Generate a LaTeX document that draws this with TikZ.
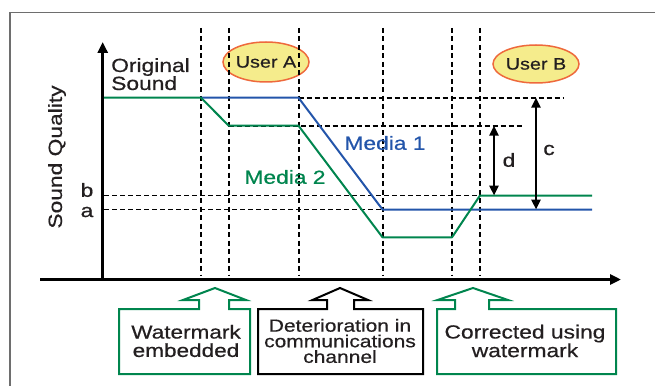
\documentclass[tikz,border=0pt]{standalone}
\usepackage{fontspec}
\setmainfont{Liberation Sans}[FakeStretch=1.2,FakeBold=0.6]
\usetikzlibrary{arrows.meta,shapes.geometric}
\definecolor{gline}{RGB}{0,133,78}
\definecolor{bline}{RGB}{35,85,170}
\definecolor{ufill}{RGB}{245,236,140}
\definecolor{uedge}{RGB}{238,105,60}
\definecolor{txt}{RGB}{35,31,32}
\definecolor{frm}{RGB}{110,110,110}
\begin{document}
\begin{tikzpicture}[x=1pt,y=-1pt,
  lbl/.style={font=\fontsize{19}{19}\selectfont, text=txt, inner sep=0pt},
  boxlbl/.style={font=\fontsize{18.8}{18.4}\selectfont, text=txt, inner sep=0pt, align=center},
  vdash/.style={line width=2pt, dash pattern=on 5pt off 3.5pt},
  hdash/.style={line width=1.8pt, dash pattern=on 5pt off 3pt},
  axisline/.style={line width=3pt, -{Triangle[length=11pt,width=10pt]}},
  dimline/.style={line width=2.5pt, {Triangle[length=10pt,width=9pt]}-{Triangle[length=10pt,width=9pt]}},
  curve/.style={line width=2pt, line join=round},
  user/.style={ellipse, draw=uedge, fill=ufill, line width=1.5pt, inner sep=0pt,
    font=\fontsize{16.5}{16.5}\selectfont, text=txt},
  gbox/.style={draw=gline, line width=2pt, line join=miter},
  kbox/.style={draw=black, line width=2pt, line join=miter}
]
\useasboundingbox (0,0) rectangle (655,385);
% frame
\draw[frm, line width=1.2pt] (10,390) -- (10,12.3) -- (660,12.3);

% user ellipses
\node[user, minimum width=86pt, minimum height=40pt] (ua) at (266,62) {User A};
\node[user, minimum width=86pt, minimum height=38pt] (ub) at (536,64) {User B};

% coordinates
\coordinate (o) at (102.7,279.5);
\coordinate (ytip) at (102.7,42);
\coordinate (xstart) at (40,279.5);
\coordinate (xtip) at (621,279.5);

% vertical dashed lines
\foreach \xx/\nm in {201/v1,228.7/v2,298.5/v3,382.5/v4,452/v5,480/v6}{
  \coordinate (\nm t) at (\xx,28);
  \coordinate (\nm b) at (\xx,276);
  \draw[vdash] (\nm t) -- (\nm b);
}

% horizontal dashed lines
\coordinate (h1a) at (298.5,97.7); \coordinate (h1b) at (564,97.7);
\coordinate (h2a) at (228.7,125.7); \coordinate (h2b) at (523,125.7);
\coordinate (hba) at (104,195.5); \coordinate (hbb) at (480,195.5);
\coordinate (haa) at (104,209.5); \coordinate (hab) at (382.5,209.5);
\draw[hdash] (h1a) -- (h1b);
\draw[hdash] (h2a) -- (h2b);
\draw[hdash] (hba) -- (hbb);
\draw[hdash] (haa) -- (hab);

% curves
\coordinate (g0) at (102.7,97.7);
\coordinate (g1) at (201,97.7);
\coordinate (g2) at (228.7,125.7);
\coordinate (g3) at (298.5,125.7);
\coordinate (g4) at (382.5,237.3);
\coordinate (g5) at (452,237.3);
\coordinate (g6) at (480,195.5);
\coordinate (g7) at (592,195.5);
\coordinate (b1) at (298.5,97.7);
\coordinate (b2) at (382.5,209.5);
\coordinate (b3) at (592,209.5);
\draw[curve, bline] (g1) -- (b1) -- (b2) -- (b3);
\draw[curve, gline] (g0) -- (g1) -- (g2) -- (g3) -- (g4) -- (g5) -- (g6) -- (g7);

% dimension arrows
\coordinate (dt) at (494,125.7); \coordinate (db) at (494,195.5);
\coordinate (ct) at (536,97.7); \coordinate (cb) at (536,209.5);
\draw[dimline] (dt) -- (db);
\draw[dimline] (ct) -- (cb);
\node[lbl] (dl) at (509,160) {d};
\node[lbl] (cl) at (549,150) {c};

% axes
\draw[axisline] (o) -- (ytip);
\draw[axisline] (xstart) -- (xtip);

% labels
\node[lbl, align=left, anchor=north west, font=\fontsize{19}{18}\selectfont] (orig) at (111,58) {Original\\Sound};
\node[lbl, rotate=90] (sq) at (57,157) {Sound Quality};
\node[lbl] (la) at (87,212) {a};
\node[lbl] (lb) at (87,190) {b};
\node[lbl, text=bline] (m1) at (385,143) {Media 1};
\node[lbl, text=gline] (m2) at (285,177) {Media 2};

% bottom boxes with arrows
\draw[gbox] (119,374) -- (119,309) -- (199,309) -- (199,300) -- (183,300) -- (215,288)
  -- (246,300) -- (229,300) -- (229,309) -- (250,309) -- (250,374) -- cycle;
\draw[kbox] (258,374) -- (258,309) -- (327,309) -- (327,300) -- (312.5,300) -- (340,288)
  -- (368,300) -- (354,300) -- (354,309) -- (423,309) -- (423,374) -- cycle;
\draw[gbox] (437,374) -- (437,309) -- (455,309) -- (455,300) -- (437.5,300) -- (473,288)
  -- (508,300) -- (489,300) -- (489,309) -- (616,309) -- (616,374) -- cycle;
\node[boxlbl] (wm) at (186,341) {Watermark\\embedded};
\node[boxlbl, font=\fontsize{17.5}{15.6}\selectfont] (det) at (340,341) {Deterioration in\\communications\\channel};
\node[boxlbl, font=\fontsize{19}{18.6}\selectfont] (cor) at (525,341) {Corrected using\\watermark};
\end{tikzpicture}
\end{document}
